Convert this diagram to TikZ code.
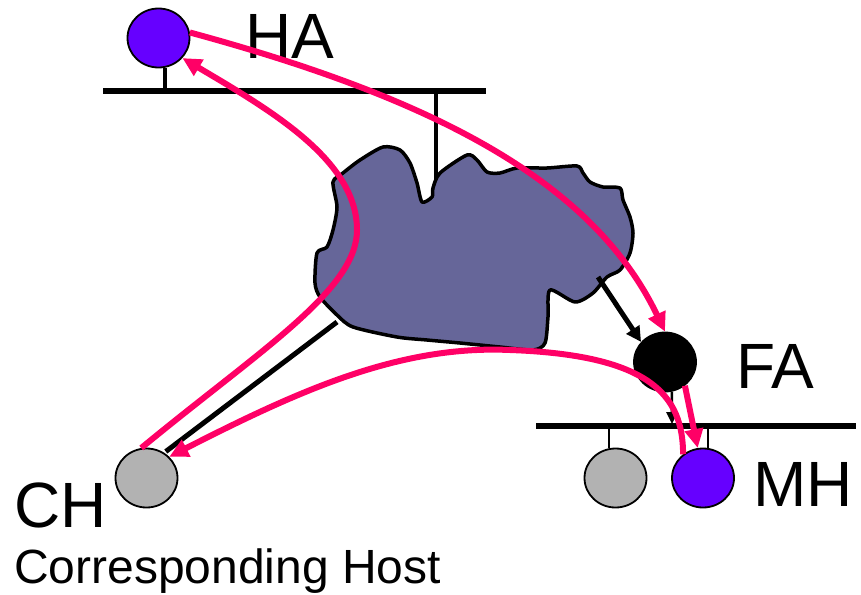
\documentclass[tikz,border=0pt]{standalone}
\usepackage{fontspec}
\setmainfont{Liberation Sans}
\usetikzlibrary{arrows.meta,shapes.geometric,calc}
\definecolor{violetc}{HTML}{6600FF}
\definecolor{grayc}{HTML}{B2B2B2}
\definecolor{cloudc}{HTML}{666699}
\definecolor{pinkc}{HTML}{FF0066}
\begin{document}
\begin{tikzpicture}[x=1pt,y=-1pt,
  host/.style={ellipse,draw=black,line width=1.8pt,inner sep=0pt,minimum width=62pt,minimum height=59pt},
  lan/.style={line width=6pt},
  stem/.style={line width=4.5pt},
  thinstem/.style={line width=1.8pt},
  pinkarr/.style={draw=pinkc,line width=6pt,-{Triangle[length=19pt,width=18pt]}},
  blackarr/.style={draw=black,line width=5pt,-{Triangle[length=15pt,width=15pt]}},
  smallarr/.style={draw=black,line width=2.5pt,-{Triangle[length=12pt,width=11pt]}},
  lbl/.style={anchor=base west,inner sep=0pt,font=\fontsize{64}{70}\selectfont},
  sublbl/.style={anchor=base west,inner sep=0pt,font=\fontsize{48}{52}\selectfont}]
\useasboundingbox (0,0) rectangle (861,594);

% coordinates
\coordinate (haL) at (103,91);
\coordinate (haR) at (486,91);
\coordinate (haS1) at (165,91);
\coordinate (haS2) at (436,91);
\coordinate (cloudN) at (436,183);
\coordinate (cloudSW) at (337,322);
\coordinate (cloudSE) at (598,277);
\coordinate (faL) at (536,426);
\coordinate (faR) at (856,426);
\coordinate (faS1) at (609,426);
\coordinate (faS2) at (708,426);
\coordinate (faHit) at (672,424);

% nodes
\node[host,fill=violetc] (HA) at (158.5,38) {};
\node[host,fill=black] (FA) at (665,362) {};
\node[host,fill=grayc] (G) at (615.5,478) {};
\node[host,fill=violetc] (MH) at (703,478) {};
\node[host,fill=grayc] (CH) at (146.5,478) {};

% labels
\node[lbl] (laHA) at (245,59) {HA};
\node[lbl] (laFA) at (736,388) {FA};
\node[lbl] (laMH) at (753,506) {MH};
\node[lbl] (laCH) at (14,527) {CH};
\node[sublbl] (laCorr) at (14,583) {Corresponding Host};

% LANs
\draw[lan] (haL) -- (haR);
\draw[stem] (haS1) -- (haS1 |- HA.south);
\draw[stem] (haS2) -- (cloudN);
\draw[lan] (faL) -- (faR);
\draw[thinstem] (faS1) -- (faS1 |- G.north);
\draw[thinstem] (faS2) -- (faS2 |- MH.north);

% cloud
\draw[fill=cloudc,line width=3.5pt,line join=round]
  plot[smooth cycle,tension=0.45] coordinates {
  (333,182) (343,173) (360,160) (383,147) (400,150) (410,163) (417,183)
  (422,202) (432,197) (433,188) (440,173) (467,155) (477,160) (487,172)
  (500,173) (517,168) (547,168) (577,166) (583,173) (590,182) (603,187)
  (620,188) (623,200) (630,217) (633,233) (630,253) (620,270) (607,277)
  (593,293) (575,302) (550,290) (548,317) (545,343) (533,350) (500,347)
  (460,343) (427,340) (397,337) (353,327) (337,315) (320,297) (315,283)
  (317,253) (327,247) (333,230) (337,207)};

% black connectors
\draw[line width=5pt,shorten >=2pt] (cloudSW) -- (CH.55);
\draw[blackarr] (cloudSE) -- (FA.140);
\draw[smallarr] (FA.-77) -- (faHit);

% pink arrows
\draw[pinkarr] (HA.10) .. controls (420,95) and (590,175) .. (FA.north);
\draw[pinkarr] (CH.100) .. controls (260,350) and (357,290) .. (357,230)
   .. controls (357,160) and (270,110) .. (HA.-40);
\draw[pinkarr] (MH.130) .. controls (683,395) and (650,355) .. (510,350)
   .. controls (400,345) and (300,390) .. (CH.43);
\draw[pinkarr] (FA.-50) -- (MH.100);
\end{tikzpicture}
\end{document}
